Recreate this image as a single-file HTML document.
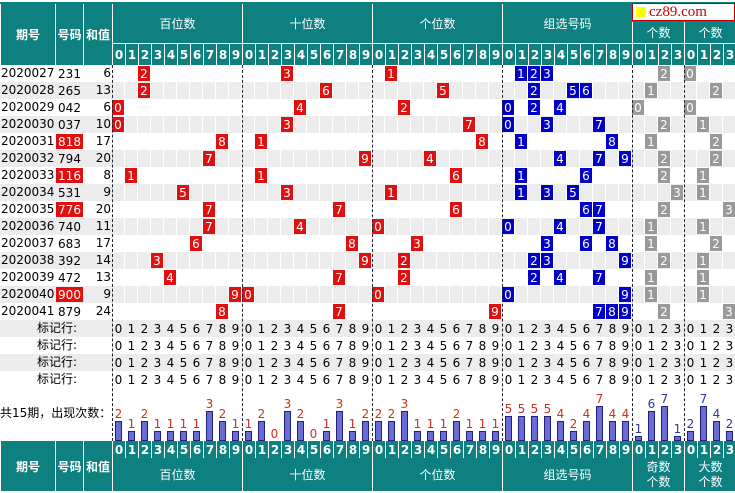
<!DOCTYPE html>
<html><head><meta charset="utf-8">
<style>
body{margin:0;width:735px;height:493px;overflow:hidden;background:#fff;font-family:"DejaVu Sans","Liberation Sans","Noto Sans CJK SC",sans-serif;}
#c{position:relative;width:735px;height:493px;}
.a{position:absolute;box-sizing:border-box;}
.hd{background:#0f8080;color:#fff;}
.t{position:absolute;white-space:nowrap;font-size:12px;line-height:17px;}
</style></head><body>
<div id="c"></div>
<script>
const periods=["2020027","2020028","2020029","2020030","2020031","2020032","2020033","2020034","2020035","2020036","2020037","2020038","2020039","2020040","2020041"];
const numbers=["231","265","042","037","818","794","116","531","776","740","683","392","472","900","879"];
const sums=[6,13,6,10,17,20,8,9,20,11,17,14,13,9,24];
const highlighted=[false,false,false,false,true,false,true,false,true,false,false,false,false,true,false];
const oddCounts=[2,1,0,2,1,2,2,3,2,1,1,2,1,1,2];
const bigCounts=[0,2,0,1,2,2,1,1,3,1,2,1,1,1,3];
const countsHundreds=[2,1,2,1,1,1,1,3,2,1];
const countsTens=[1,2,0,3,2,0,1,3,1,2];
const countsUnits=[2,2,3,1,1,1,2,1,1,1];
const countsGroup=[5,5,5,5,4,2,4,7,4,4];
const countsOdd=[1,6,7,1];
const countsBig=[2,7,4,2];

const C=document.getElementById('c');
const bases=[112,242,372,502,632,684];
const CW=13, ROW0=65, RH=17;
function gx(g,d){return bases[g]+d*CW;}
function ry(i){return ROW0+i*RH;}
function box(x,y,w,h,css,name,txt){
  const e=document.createElement('div');
  e.className='a';
  e.style.cssText=`left:${x}px;top:${y}px;width:${w}px;height:${h}px;${css||''}`;
  if(txt!==undefined){e.textContent=txt;}
  
  
  C.appendChild(e);return e;
}
const ctr='display:flex;align-items:center;justify-content:center;';
// top border
box(0,2,735,2,'background:#0f8080','top-border');
// header row
box(0,4,735,61,'background:#0f8080','header-band');
[['期号',0,55],['号码',55,28],['和值',83,29]].forEach(([t,x,w])=>{
  box(x,4,w,61,ctr+'color:#fff;font-size:12px;font-weight:bold;border-left:1px solid #fff','header-'+t,t);
});
const gnames=['百位数','十位数','个位数','组选号码'];
gnames.forEach((t,g)=>box(bases[g],4,130,40,ctr+'color:#fff;font-size:12px;border-left:1px solid #fff;border-bottom:1px solid #fff','header-group-'+g,t));
box(632,22,52,22,ctr+'color:#fff;font-size:12px;border-left:1px solid #fff;border-bottom:1px solid #fff','header-odd','个数');
box(684,22,52,22,ctr+'color:#fff;font-size:12px;border-left:1px solid #fff;border-bottom:1px solid #fff','header-big','个数');
function digitRow(y,h,nm){
  for(let g=0;g<6;g++){const n=g<4?10:4;for(let d=0;d<n;d++){
    box(gx(g,d),y,CW,h,ctr+'color:#fff;font-size:12px;font-weight:bold;border-left:1px solid #fff;background:#0f8080',nm+'-digit',String(d));
  }}
}
digitRow(44,21,'header');
// watermark
const wm=box(632,3,103,18,'background:#fff;border:1px solid #b00;display:flex;align-items:center;padding-left:3px;font-family:"Liberation Serif",serif;font-size:15px;color:#c00','watermark');
wm.innerHTML='<span style="display:inline-block;width:10px;height:10px;background:#ff0;margin-right:3px"></span>cz89.com';
// data rows
const cellBg='repeating-linear-gradient(90deg,#ececec 0,#ececec 12px,#fff 12px,#fff 13px)';
for(let i=0;i<15;i++){
  const y=ry(i);
  if(i%2===1){box(0,y,112,RH,'background:#ececec','row-bg');box(112,y,623,RH,'background:'+cellBg,'row-cells-bg');}
  box(1,y,55,RH,'font-size:12px;line-height:17px','period',periods[i]);
  box(56,y+1,27,RH-2,ctr+'font-size:12px;'+(highlighted[i]?'background:#e01010;color:#fff':''),'number',numbers[i]);
  box(83,y,28,RH,'font-size:12px;line-height:17px;text-align:right','sum',String(sums[i]));
  const ds=numbers[i].split('').map(Number);
  ds.forEach((d,g)=>box(gx(g,d),y+1,12,15,ctr+'background:#e01010;color:#fff;font-size:12px','position-ball',String(d)));
  [...new Set(ds)].forEach(d=>box(gx(3,d),y+1,12,15,ctr+'background:#0000c8;color:#fff;font-size:12px','group-ball',String(d)));
  box(gx(4,oddCounts[i]),y+1,12,15,ctr+'background:#999;color:#fff;font-size:12px','odd-ball',String(oddCounts[i]));
  box(gx(5,bigCounts[i]),y+1,12,15,ctr+'background:#999;color:#fff;font-size:12px','big-ball',String(bigCounts[i]));
}
// mark rows
for(let r=0;r<4;r++){
  const y=ry(15+r);
  if(r%2===0) box(0,y,735,RH,'background:#ececec','mark-row-bg');
  box(0,y,77,RH,'font-size:12px;line-height:17px;text-align:right','mark-label','标记行:');
  for(let g=0;g<6;g++){const n=g<4?10:4;for(let d=0;d<n;d++){
    const e=box(gx(g,d),y,CW,RH,ctr+'font-size:12px;color:#000','mark-digit',String(d));
    
  }}
}
// count row
const cy0=ry(19), cy1=441;
box(0,cy0+17,112,17,'font-size:12px;line-height:17px','count-label','共15期，出现次数：');
const groupsCounts=[countsHundreds,countsTens,countsUnits,countsGroup,countsOdd,countsBig];
const scale=[10,10,10,5,5,5];
groupsCounts.forEach((arr,g)=>{
  arr.forEach((v,d)=>{
    const h=v*scale[g];
    const x=gx(g,d);
    if(h>0) box(x+3,cy1-h,7,h,'background:#6b6bd8;border:1px solid #22227a','count-bar');
    box(x,cy1-h-14,CW,13,ctr+'font-size:12px;color:'+(g>=4?'#3333aa':'#d03020'),'count-value',String(v));
  });
});
// dashed separators
bases.forEach(x=>box(x,ROW0,1,cy1-ROW0,'border-left:1px dashed #223','group-separator'));
// footer
digitRow(441,17,'footer');
box(0,441,112,52,'background:#0f8080','footer-left-bg');
[['期号',0,55],['号码',55,28],['和值',83,29]].forEach(([t,x,w])=>box(x,441,w,50,ctr+'color:#fff;font-size:12px;font-weight:bold;border-left:1px solid #fff','footer-'+t,t));
box(112,458,623,35,'background:#0f8080','footer-band');
gnames.forEach((t,g)=>box(bases[g],458,130,33,ctr+'color:#fff;font-size:12px;border-left:1px solid #fff','footer-group-'+g,t));
box(632,458,52,33,ctr+'color:#fff;font-size:12px;line-height:15px;text-align:center;border-left:1px solid #fff','footer-odd').innerHTML='奇数<br>个数';
box(684,458,52,33,ctr+'color:#fff;font-size:12px;line-height:15px;text-align:center;border-left:1px solid #fff','footer-big').innerHTML='大数<br>个数';
box(0,491,735,2,'background:#fff','bottom-edge');
</script>
</body></html>
